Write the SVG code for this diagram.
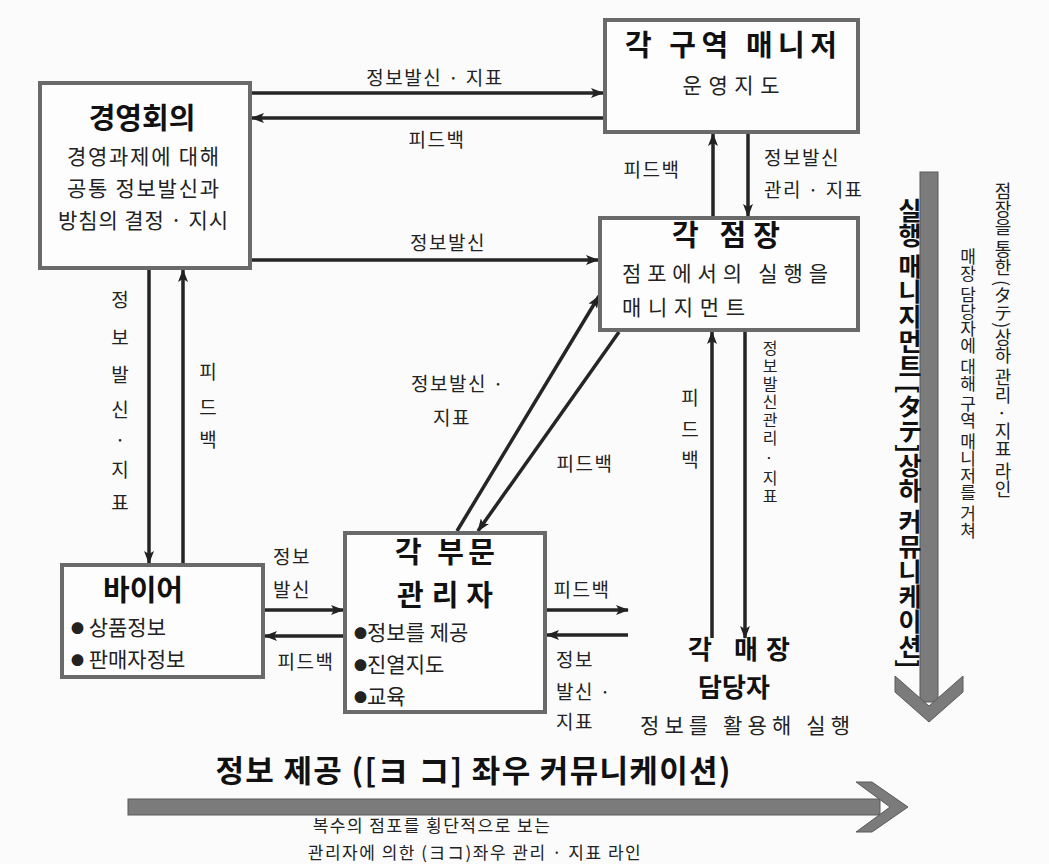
<svg xmlns="http://www.w3.org/2000/svg" width="1049" height="864" viewBox="0 0 1049 864">
<defs>
<marker id="ah" markerWidth="13" markerHeight="10" refX="12" refY="5" orient="auto" markerUnits="userSpaceOnUse"><path d="M0,0 L13,5 L0,10 L3,5 z" fill="#222"/></marker>
</defs>
<style>
.box{fill:#fdfdfd;stroke:#6a6a6a;stroke-width:4}
text{font-family:"Noto Sans CJK KR","Noto Sans",sans-serif;fill:#222}
.title{font-weight:bold;font-size:29px;fill:#111}
.body{font-size:21px}
.lbl{font-size:19px;letter-spacing:1.5px}
.vl{font-size:19px}
.mid{text-anchor:middle}
.bul{font-size:13px}
.c line{stroke:#252525;stroke-width:3.5;marker-end:url(#ah)}
.big{fill:#7b7b7b;stroke:#5a5a5a;stroke-width:1}
.vt{writing-mode:vertical-rl}
</style>
<rect x="0" y="0" width="1049" height="864" fill="#fbfbfb"/>

<g id="connectors" class="c">
<line x1="252" y1="93" x2="603" y2="93"/>
<line x1="603" y1="118" x2="252" y2="118"/>
<line x1="252" y1="260" x2="598" y2="260"/>
<line x1="713" y1="216" x2="713" y2="134"/>
<line x1="748" y1="134" x2="748" y2="216"/>
<line x1="149" y1="270" x2="149" y2="563"/>
<line x1="183" y1="563" x2="183" y2="270"/>
<line x1="265" y1="610" x2="343" y2="610"/>
<line x1="343" y1="636" x2="265" y2="636"/>
<line x1="457" y1="531" x2="599" y2="296"/>
<line x1="619" y1="332" x2="478" y2="531"/>
<line x1="712" y1="638" x2="712" y2="332"/>
<line x1="745" y1="332" x2="745" y2="638"/>
<line x1="547" y1="610" x2="628" y2="610"/>
<line x1="628" y1="635" x2="547" y2="635"/>
</g>

<g id="connector-labels">
<text class="lbl mid" x="435" y="85">정보발신 · 지표</text>
<text class="lbl mid" x="437" y="147">피드백</text>
<text class="lbl mid" x="448" y="250">정보발신</text>
<text class="lbl mid" x="652" y="177">피드백</text>
<text class="lbl" x="764" y="165">정보발신</text>
<text class="lbl" x="764" y="197">관리 · 지표</text>
<text class="lbl mid" x="292" y="564">정보</text>
<text class="lbl mid" x="292" y="597">발신</text>
<text class="lbl mid" x="306" y="669">피드백</text>
<text class="lbl mid" x="458" y="391">정보발신 ·</text>
<text class="lbl mid" x="452" y="425">지표</text>
<text class="lbl mid" x="585" y="471">피드백</text>
<text class="lbl mid" x="582" y="597">피드백</text>
<text class="lbl" x="556" y="667">정보</text>
<text class="lbl" x="556" y="699">발신 ·</text>
<text class="lbl" x="556" y="729">지표</text>
<text class="vl mid"><tspan x="120" y="307">정</tspan><tspan x="120" y="345">보</tspan><tspan x="120" y="382">발</tspan><tspan x="120" y="417">신</tspan><tspan x="120" y="447">·</tspan><tspan x="120" y="477">지</tspan><tspan x="120" y="510">표</tspan></text>
<text class="vl mid"><tspan x="208" y="379">피</tspan><tspan x="208" y="415">드</tspan><tspan x="208" y="447">백</tspan></text>
<text class="vl mid"><tspan x="690" y="405">피</tspan><tspan x="690" y="437">드</tspan><tspan x="690" y="467">백</tspan></text>
<text class="vt" x="770" y="340" style="font-size:16px;letter-spacing:2px">정보발신관리 · 지표</text>
</g>

<g id="node-management-meeting">
<rect class="box" x="40" y="83" width="210" height="185"/>
<text class="title mid" x="142" y="129">경영회의</text>
<text class="body mid" x="143" y="164" textLength="152" lengthAdjust="spacing">경영과제에 대해</text>
<text class="body mid" x="143" y="196" textLength="152" lengthAdjust="spacing">공통 정보발신과</text>
<text class="body mid" x="143" y="228" textLength="170" lengthAdjust="spacing">방침의 결정 · 지시</text>
</g>

<g id="node-area-manager">
<rect class="box" x="605" y="20" width="253" height="112"/>
<text class="title mid" x="731" y="56" textLength="212" lengthAdjust="spacing">각 구역 매니저</text>
<text class="body mid" x="731" y="93" textLength="97" lengthAdjust="spacing">운영지도</text>
</g>

<g id="node-store-manager">
<rect class="box" x="600" y="218" width="258" height="112"/>
<text class="title mid" x="726" y="246" textLength="108" lengthAdjust="spacing">각 점장</text>
<text class="body" x="622" y="281" textLength="206" lengthAdjust="spacing">점포에서의 실행을</text>
<text class="body" x="622" y="315" textLength="123" lengthAdjust="spacing">매니지먼트</text>
</g>

<g id="node-buyer">
<rect class="box" x="62" y="565" width="201" height="112"/>
<text class="title mid" x="143" y="601">바이어</text>
<text class="body" x="71" y="635"><tspan class="bul" dy="-2">●</tspan><tspan dy="2"> 상품정보</tspan></text>
<text class="body" x="71" y="667"><tspan class="bul" dy="-2">●</tspan><tspan dy="2"> 판매자정보</tspan></text>
</g>

<g id="node-dept-manager">
<rect class="box" x="345" y="533" width="200" height="179"/>
<text class="title mid" x="445" y="563" textLength="100" lengthAdjust="spacing">각 부문</text>
<text class="title mid" x="445" y="606" textLength="96" lengthAdjust="spacing">관리자</text>
<text class="body" x="354" y="640"><tspan class="bul" dy="-2">●</tspan><tspan dy="2">정보를 제공</tspan></text>
<text class="body" x="354" y="672"><tspan class="bul" dy="-2">●</tspan><tspan dy="2">진열지도</tspan></text>
<text class="body" x="354" y="704"><tspan class="bul" dy="-2">●</tspan><tspan dy="2">교육</tspan></text>
</g>

<g id="node-floor-staff">
<text class="title mid" x="739" y="659" textLength="102" lengthAdjust="spacing" style="font-size:26px">각 매장</text>
<text class="title mid" x="734" y="697" style="font-size:26px">담당자</text>
<text class="body mid" x="745" y="733" textLength="210" lengthAdjust="spacing">정보를 활용해 실행</text>
</g>

<g id="vertical-arrow">
<rect class="big" x="920" y="172" width="18" height="530"/>
<polygon class="big" points="895,676 929,706 963,676 963,692 929,722 895,692"/>
<text class="vt" x="910" y="198" style="font-weight:bold;font-size:25px;fill:#111">실행 매니지먼트 [タテ]상하 커뮤니케이션]</text>
<text class="vt" x="1003" y="182" style="font-size:18px">점장을 통한 (タテ)상하 관리 · 지표 라인</text>
<text class="vt" x="968" y="248" style="font-size:17px">매장 담당자에 대해 구역 매니저를 거쳐</text>
</g>

<g id="horizontal-arrow">
<rect class="big" x="128" y="799" width="752" height="16"/>
<polygon class="big" points="856,782 890,807 856,832 872,832 908,807 872,782"/>
<text class="mid" x="473" y="782" textLength="515" lengthAdjust="spacing" style="font-weight:bold;font-size:31px;fill:#111">정보 제공 ([ヨ コ] 좌우 커뮤니케이션)</text>
<text class="mid" x="432" y="832" style="font-size:17px;letter-spacing:1.5px">복수의 점포를 횡단적으로 보는</text>
<text class="mid" x="475" y="859" style="font-size:17px;letter-spacing:1.5px">관리자에 의한 (ヨコ)좌우 관리 · 지표 라인</text>
</g>
</svg>
